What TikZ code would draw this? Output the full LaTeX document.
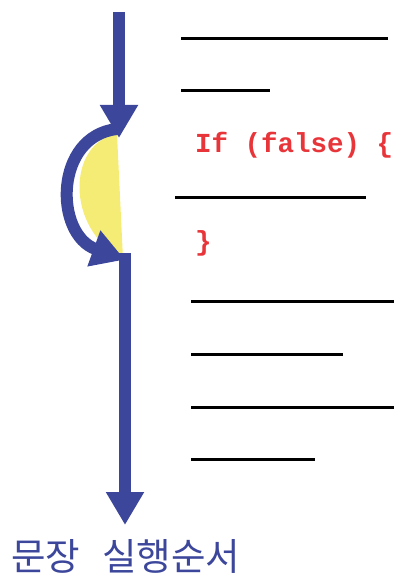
\documentclass[tikz,border=0pt]{standalone}
\usepackage{fontspec}
\setmonofont{Liberation Mono}
\newfontfamily\kofont{Noto Sans CJK KR}
\usetikzlibrary{arrows.meta}
\definecolor{flowblue}{RGB}{60,71,155}
\definecolor{skipyellow}{RGB}{245,236,117}
\definecolor{codered}{RGB}{232,53,58}
\tikzset{
  flow/.style={draw=flowblue, line width=12pt,
    -{Triangle[length=33pt,width=36pt]}},
  codeline/.style={draw=black, line width=3pt},
  codetext/.style={text=codered, font=\ttfamily\bfseries\fontsize{27.5}{29}\selectfont,
    anchor=west, inner sep=0pt},
}
\begin{document}
\begin{tikzpicture}[x=1pt,y=-1pt]
   \useasboundingbox (0,0) rectangle (395,575);

   % flow of the statements
   \coordinate (start) at (119,12);
   \coordinate (jumpfrom) at (119,138);
   \coordinate (jumpto) at (123,259);
   \coordinate (resume) at (125,253);
   \coordinate (finish) at (125,525);

   \fill[skipyellow] (117,134) .. controls (68,142) and (64,228) .. (jumpto)
      -- cycle;
   \draw[flow] (start) -- (jumpfrom);
   \draw[flow, shorten >=-2pt] (117,129) .. controls (54,136) and (54,234) .. (jumpto);
   \draw[draw=flowblue, line width=12pt] (resume) -- (125,490);
   \draw[flow] (resume) -- (finish);

   % program text
   \foreach \y/\xa/\xb in {39/181/388, 91/181/270, 197/175/366, 301/191/394,
                           354/191/343, 407/191/394, 459/191/315}
      \draw[codeline] (\xa,\y) -- (\xb,\y);
   \node[codetext] (iffalse) at (195,145) {If (false) \{};
   \node[codetext] (close) at (195,243) {\}};

   \node[text=flowblue, font=\kofont\fontsize{37.5}{39}\selectfont, anchor=west,
      inner sep=0pt] (order) at (11,556) {문장\hspace{22pt}실행순서};
\end{tikzpicture}
\end{document}
